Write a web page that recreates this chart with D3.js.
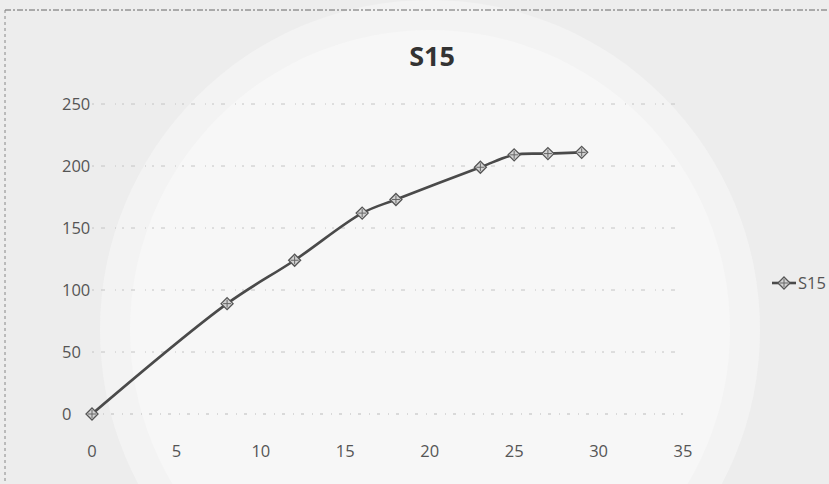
<!DOCTYPE html>
<html>
<head>
<meta charset="utf-8">
<script src="https://cdn.jsdelivr.net/npm/d3@7"></script>
<style>
  html, body { margin: 0; padding: 0; background: #eeeeee; }
  svg { display: block; }
</style>
</head>
<body>
<svg id="chart" width="829" height="484"></svg>
<script>
// Series S15: measured points
const xValues = [0, 8, 12, 16, 18, 23, 25, 27, 29];
const yValues = [0, 89, 124, 162, 173, 199, 209, 210, 211];
const seriesName = "S15";
const xTicks = [0, 5, 10, 15, 20, 25, 30, 35];
const yTicks = [0, 50, 100, 150, 200, 250];

const svg = d3.select("#chart");
const W = 829, H = 484;
const font = "Open Sans, Liberation Sans, sans-serif";

// background with a soft light watermark disc
svg.append("rect").attr("width", W).attr("height", H).attr("fill", "#ededed");
svg.append("circle").attr("cx", 430).attr("cy", 330).attr("r", 330)
  .attr("fill", "#f3f3f3");
svg.append("circle").attr("cx", 430).attr("cy", 330).attr("r", 300)
  .attr("fill", "#f7f7f7");

// chart frame (top and left edges)
svg.append("line").attr("x1", 5).attr("x2", W).attr("y1", 10).attr("y2", 10)
  .attr("stroke", "#666").attr("stroke-width", 1).attr("stroke-dasharray", "6 2 2 2");
svg.append("line").attr("x1", 5).attr("x2", 5).attr("y1", 10).attr("y2", H)
  .attr("stroke", "#888").attr("stroke-width", 1).attr("stroke-dasharray", "3 3");

const x = d3.scaleLinear().domain([0, 35]).range([92, 683]);
const y = d3.scaleLinear().domain([0, 250]).range([414, 104]);

// horizontal gridlines
svg.append("g").selectAll("line").data(yTicks.filter(d => d > 0)).join("line")
  .attr("x1", x(0)).attr("x2", x(35))
  .attr("y1", d => y(d)).attr("y2", d => y(d))
  .attr("stroke", "#c4c4c4").attr("stroke-width", 1)
  .attr("stroke-dasharray", "2 7 4 10 1 6");

// x axis baseline
svg.append("line").attr("x1", x(0)).attr("x2", x(35))
  .attr("y1", y(0)).attr("y2", y(0))
  .attr("stroke", "#bbb").attr("stroke-dasharray", "3 8 1 7");

// y tick labels (left aligned)
svg.append("g").selectAll("text").data(yTicks).join("text")
  .attr("x", 62).attr("y", d => y(d)).attr("dy", "0.35em")
  .attr("font-family", font).attr("font-size", 16.5).attr("fill", "#555")
  .text(d => d);

// x tick labels
svg.append("g").selectAll("text").data(xTicks).join("text")
  .attr("x", d => x(d)).attr("y", 451).attr("dy", "0.35em")
  .attr("text-anchor", "middle")
  .attr("font-family", font).attr("font-size", 16.5).attr("fill", "#555")
  .text(d => d);

// title
svg.append("text").attr("x", 432).attr("y", 57).attr("dy", "0.35em")
  .attr("text-anchor", "middle")
  .attr("font-family", font)
  .attr("font-weight", "bold").attr("font-size", 27).attr("fill", "#333")
  .text(seriesName);

const data = xValues.map((v, i) => ({ x: v, y: yValues[i] }));

// smoothed line
svg.append("path").datum(data)
  .attr("fill", "none").attr("stroke", "#4a4a4a").attr("stroke-width", 2.6)
  .attr("d", d3.line().x(d => x(d.x)).y(d => y(d.y)).curve(d3.curveCatmullRom.alpha(0.5)));

// diamond marker with inner cross
function marker(g) {
  g.append("path").attr("d", "M0,-6L6,0L0,6L-6,0Z")
    .attr("fill", "#d2d2d2").attr("stroke", "#555").attr("stroke-width", 1.3);
  g.append("path").attr("d", "M-4,0H4M0,-4V4")
    .attr("stroke", "#666").attr("stroke-width", 1);
}
svg.append("g").selectAll("g").data(data).join("g")
  .attr("transform", d => `translate(${x(d.x)},${y(d.y)})`)
  .each(function () { marker(d3.select(this)); });

// legend
const lg = svg.append("g").attr("transform", "translate(772,283)");
lg.append("line").attr("x1", 0).attr("x2", 24).attr("y1", 0).attr("y2", 0)
  .attr("stroke", "#4a4a4a").attr("stroke-width", 2.6);
marker(lg.append("g").attr("transform", "translate(12,0)"));
lg.append("text").attr("x", 26).attr("y", 0).attr("dy", "0.35em")
  .attr("font-family", font).attr("font-size", 16.5).attr("fill", "#555")
  .text(seriesName);
</script>
</body>
</html>
